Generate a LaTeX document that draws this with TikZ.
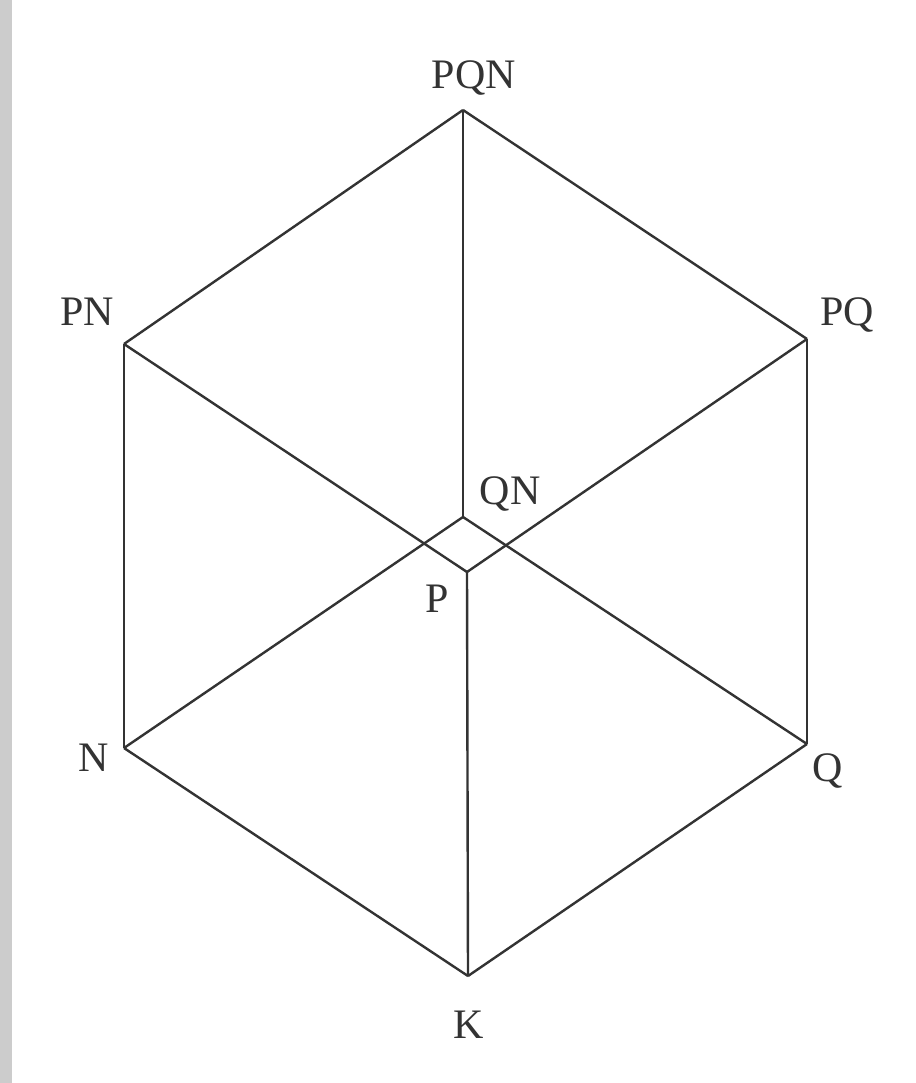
\documentclass[tikz,border=0pt]{standalone}
\usepackage{fontspec}
\setmainfont{Liberation Serif}
\begin{document}
\begin{tikzpicture}[x=1pt,y=-1pt,
  edge/.style={draw=black!80,line width=2.4pt,line join=round},
  lbl/.style={inner sep=0pt,anchor=base,text=black!80,font=\fontsize{42}{48}\selectfont}]
\useasboundingbox (0,0) rectangle (915,1083);
\fill[white] (0,0) rectangle (915,1083);
\fill[black!20] (0,0) rectangle (12,1083);
% vertices
\coordinate (pqn) at (463,110);
\coordinate (pn) at (124,344);
\coordinate (pq) at (807,339);
\coordinate (n) at (124,748);
\coordinate (q) at (807,744);
\coordinate (k) at (468,976);
\coordinate (qn) at (463,517);
\coordinate (p) at (467,572);
% edges
\draw[edge] (pqn) -- (pn);
\draw[edge] (pqn) -- (pq);
\draw[edge] (pqn) -- (qn);
\draw[edge] (pn) -- (n);
\draw[edge] (pn) -- (p);
\draw[edge] (pq) -- (q);
\draw[edge] (pq) -- (p);
\draw[edge] (n) -- (k);
\draw[edge] (n) -- (qn);
\draw[edge] (q) -- (k);
\draw[edge] (q) -- (qn);
\draw[edge] (k) -- (p);
% labels
\node[lbl] (lpqn) at (474,89) {PQN};
\node[lbl] (lpn) at (87,325) {PN};
\node[lbl] (lpq) at (847,325) {PQ};
\node[lbl] (ln) at (94,771) {N};
\node[lbl] (lq) at (828,781) {Q};
\node[lbl] (lk) at (469,1038) {K};
\node[lbl] (lqn) at (510,504) {QN};
\node[lbl] (lp) at (437,612) {P};
\end{tikzpicture}
\end{document}
